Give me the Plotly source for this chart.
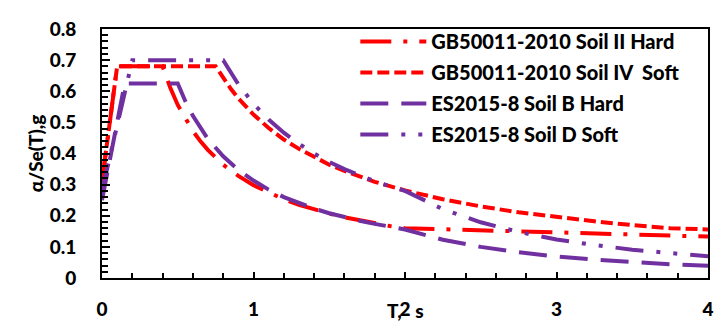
import plotly.graph_objects as go

# ---- data ----
T_gb_hard = [0, 0.1, 0.4, 0.45, 0.5, 0.55, 0.6, 0.65, 0.7, 0.8, 0.9, 1.0, 1.1, 1.2, 1.3, 1.4, 1.5, 1.6, 1.7, 1.8, 1.9, 2.0, 3.0, 4.0]
a_gb_hard = [0.31, 0.68, 0.68, 0.612, 0.556, 0.511, 0.472, 0.439, 0.411, 0.364, 0.328, 0.298, 0.274, 0.253, 0.235, 0.220, 0.207, 0.195, 0.185, 0.176, 0.167, 0.160, 0.146, 0.133]

T_gb_soft = [0, 0.1, 0.75, 0.8, 0.85, 0.9, 0.95, 1.0, 1.1, 1.2, 1.3, 1.4, 1.5, 1.6, 1.7, 1.8, 1.9, 2.0, 2.25, 2.5, 2.75, 3.0, 3.25, 3.5, 3.75, 4.0]
a_gb_soft = [0.31, 0.68, 0.68, 0.642, 0.608, 0.577, 0.550, 0.525, 0.482, 0.445, 0.415, 0.388, 0.364, 0.344, 0.326, 0.309, 0.295, 0.281, 0.253, 0.230, 0.211, 0.195, 0.182, 0.170, 0.160, 0.156]

T_es_b = [0, 0.15, 0.5, 0.55, 0.6, 0.7, 0.8, 0.9, 1.0, 1.1, 1.2, 1.3, 1.4, 1.5, 1.6, 1.7, 1.8, 1.9, 2.0, 2.25, 2.5, 2.75, 3.0, 3.25, 3.5, 3.75, 4.0]
a_es_b = [0.25, 0.625, 0.625, 0.568, 0.521, 0.446, 0.391, 0.347, 0.313, 0.284, 0.260, 0.240, 0.223, 0.208, 0.195, 0.184, 0.174, 0.164, 0.156, 0.123, 0.100, 0.083, 0.069, 0.059, 0.051, 0.044, 0.039]

T_es_d = [0, 0.2, 0.8, 0.85, 0.9, 1.0, 1.1, 1.2, 1.3, 1.4, 1.5, 1.6, 1.7, 1.8, 1.9, 2.0, 2.25, 2.5, 2.75, 3.0, 3.25, 3.5, 3.75, 4.0]
a_es_d = [0.28, 0.70, 0.70, 0.659, 0.622, 0.560, 0.509, 0.467, 0.431, 0.400, 0.373, 0.350, 0.329, 0.311, 0.295, 0.280, 0.221, 0.179, 0.148, 0.124, 0.106, 0.091, 0.080, 0.070]

names = ["GB50011-2010 Soil II Hard", "GB50011-2010 Soil IV  Soft", "ES2015-8 Soil B Hard", "ES2015-8 Soil D Soft"]
x_ticks = [0, 1, 2, 3, 4]
y_ticks = [0, 0.1, 0.2, 0.3, 0.4, 0.5, 0.6, 0.7, 0.8]

RED = "#FF0000"
PURPLE = "#7030A0"
FONT = "Lato"
W = 900

series = [
    (T_gb_hard, a_gb_hard, RED, "31px,12px,4px,12px"),
    (T_gb_soft, a_gb_soft, RED, "12px,5px"),
    (T_es_b, a_es_b, PURPLE, "28px,13px"),
    (T_es_d, a_es_d, PURPLE, "28px,13px,4px,13px,4px,13px"),
]

fig = go.Figure()
for i, (tx, ty, col, dash) in enumerate(series):
    fig.add_trace(go.Scatter(
        x=tx, y=ty, mode="lines", name=names[i], legendgroup=f"g{i}",
        line=dict(color=col, width=4, dash=dash),
    ))

fnt = dict(family=FONT, size=19, color="black", weight=W)

fig.update_layout(
    width=715, height=321,
    margin=dict(l=94, r=9, t=14, b=50),
    paper_bgcolor="white", plot_bgcolor="white",
    font=fnt,
    legend=dict(
        x=0.418, y=1.028, xanchor="left", yanchor="top",
        bgcolor="rgba(0,0,0,0)", borderwidth=0,
        font=dict(family=FONT, size=20, color="black", weight=W),
        itemwidth=66, tracegroupgap=2,
    ),
    xaxis=dict(
        range=[0, 4], tickvals=x_ticks, ticktext=[str(v) for v in x_ticks],
        showgrid=False, zeroline=False,
        showline=True, linecolor="black", linewidth=2, mirror=True,
        ticks="inside", ticklen=6, tickwidth=2, tickcolor="black",
        minor=dict(dtick=0.2, ticks="inside", ticklen=5, tickwidth=1.5, tickcolor="black", showgrid=False),
        tickfont=fnt,
        ticklabelstandoff=13,
    ),
    yaxis=dict(
        range=[0, 0.8], tickvals=y_ticks, ticktext=[("0" if v == 0 else f"{v:.1f}") for v in y_ticks],
        showgrid=False, zeroline=False,
        showline=True, linecolor="black", linewidth=2, mirror=True,
        ticks="inside", ticklen=8, tickwidth=2, tickcolor="black",
        minor=dict(dtick=0.02, ticks="inside", ticklen=6, tickwidth=1.5, tickcolor="black", showgrid=False),
        tickfont=fnt,
        ticklabelstandoff=20,
        title=dict(text="α/Se(T),g", font=fnt, standoff=1),
    ),
    annotations=[dict(
        text="T,\u00a0\u00a0\u00a0s", x=0.5, xref="paper", y=-0.13, yref="paper",
        xanchor="center", yanchor="middle", showarrow=False,
        font=fnt,
    )],
)

fig.write_html("out.html")
